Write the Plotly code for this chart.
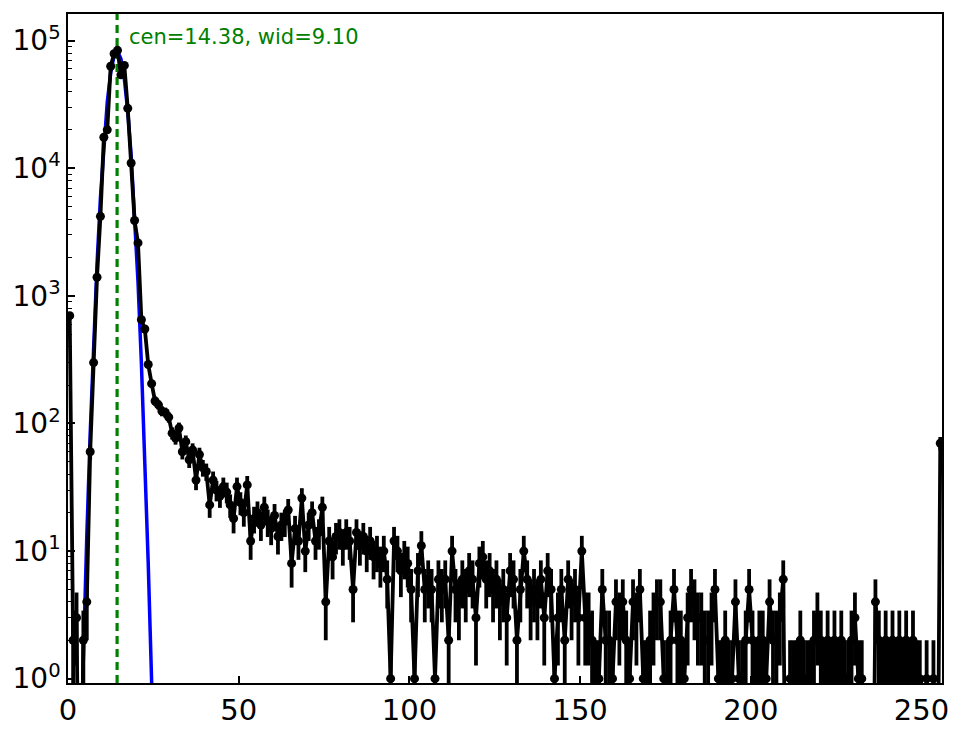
import math
import plotly.graph_objects as go


# counts per unit-wide bin, bins 0..255
COUNTS = [
    700, 2, 3, 0, 2, 4, 60, 300, 1400, 4200, 17500, 20000, 63000, 79000, 84000, 54000,
    64000, 29500, 11000, 3900, 2600, 650, 550, 290, 205, 150, 140, 125, 122, 112, 84, 77,
    92, 60, 72, 52, 62, 36, 57, 45, 42, 23, 36, 30, 27, 32, 29, 23,
    18, 32, 24, 20, 33, 12, 18, 20, 16, 22, 17, 15, 19, 13, 16, 17,
    21, 8, 15, 12, 26, 10, 16, 20, 12, 14, 22, 4, 12, 9, 13, 14,
    11, 14, 12, 5, 14, 11, 13, 10, 12, 9, 10, 8, 10, 6, 1, 12,
    10, 7, 9, 8, 5, 1, 7, 11, 5, 6, 5, 1, 6, 5, 6, 2,
    10, 5, 4, 6, 5, 7, 6, 3, 8, 9, 6, 7, 5, 6, 4, 5,
    3, 7, 6, 2, 5, 10, 6, 4, 5, 4, 6, 3, 7, 5, 1, 3,
    5, 2, 6, 4, 5, 3, 10, 3, 3, 2, 1, 1, 5, 2, 2, 1,
    4, 3, 4, 2, 1, 4, 3, 5, 1, 1, 2, 3, 4, 4, 1, 1,
    2, 5, 2, 2, 1, 3, 5, 4, 3, 3, 2, 2, 3, 5, 1, 1,
    2, 1, 1, 4, 1, 1, 2, 5, 2, 1, 2, 2, 1, 4, 2, 2,
    3, 6, 0, 1, 1, 1, 2, 1, 1, 1, 2, 3, 2, 1, 2, 1,
    2, 1, 2, 1, 1, 2, 3, 1, 1, 0, 0, 0, 4, 2, 1, 2,
    1, 2, 1, 2, 1, 2, 1, 2, 1, 1, 0, 1, 0, 1, 0, 70,
]

# gaussian fit curve as drawn (blue)
FIT_X = [3.5, 4.5, 5.5, 6.5, 7.5, 8.5, 9.5, 10.5, 11.5, 12.5, 13.5, 14.5,
         15.5, 16.5, 17.5, 18.5, 19.5, 20.5, 21.5, 22.5, 23.5, 24.5, 25.5]
FIT_Y = [0.16, 1.6, 13, 83, 430, 1770, 5870, 15560, 33000, 56000, 76150, 82870,
         72200, 50340, 28100, 12570, 4500, 1290, 295, 54, 8, 0.94, 0.09]

FIT_CEN = 14.38
FIT_WID = 9.10

X_TICKS = [0, 50, 100, 150, 200, 250]
Y_TICKS = [1, 10, 100, 1000, 10000, 100000]
Y_TICK_TEXT = ["10<sup>0</sup>", "10<sup>1</sup>", "10<sup>2</sup>",
               "10<sup>3</sup>", "10<sup>4</sup>", "10<sup>5</sup>"]

FLOOR = 0.01  # empty bins get pushed below the axis like matplotlib does


def make_figure():
    x = [i + 0.5 for i in range(len(COUNTS))]
    y = [c if c > 0 else FLOOR for c in COUNTS]

    # poisson error bars as one broken line trace
    err_x, err_y = [], []
    for xi, c in zip(x, COUNTS):
        if c <= 0:
            continue
        s = math.sqrt(c)
        err_x += [xi, xi, None]
        err_y += [max(c - s, FLOOR), c + s, None]

    fig = go.Figure()

    fig.add_trace(go.Scatter(
        x=FIT_X, y=FIT_Y, mode="lines",
        line=dict(color="#0000ff", width=3.5),
        showlegend=False
    ))

    fig.add_vline(
        x=FIT_CEN, line=dict(color="#008000", width=3.2, dash="8px,5px"),
        layer="below"
    )

    fig.add_trace(go.Scatter(
        x=err_x, y=err_y, mode="lines",
        line=dict(color="black", width=3.8),
        connectgaps=False, showlegend=False, hoverinfo="skip"
    ))

    fig.add_trace(go.Scatter(
        x=x, y=y, mode="lines+markers",
        line=dict(color="black", width=3.8),
        marker=dict(color="black", size=9),
        showlegend=False
    ))

    fig.add_annotation(
        x=17.2, xref="x", y=0.965, yref="paper",
        text=f"cen={FIT_CEN:.2f}, wid={FIT_WID:.2f}",
        showarrow=False, xanchor="left", yanchor="middle",
        font=dict(color="#008000", size=21)
    )

    minor_vals = [m * 10 ** k for k in range(0, 5) for m in range(2, 10)]

    fig.update_xaxes(
        range=[0, 256], tickvals=X_TICKS, automargin=False,
        ticks="inside", ticklen=7, tickwidth=1.5, tickcolor="black",
        showline=True, linecolor="black", linewidth=1.5, mirror=True,
        showgrid=False, zeroline=False,
        tickfont=dict(size=29, color="black")
    )
    fig.update_yaxes(
        type="log", range=[-0.034, 5.209], automargin=False,
        tickvals=Y_TICKS, ticktext=Y_TICK_TEXT,
        ticks="inside", ticklen=7, tickwidth=1.5, tickcolor="black",
        minor=dict(tickmode="array", tickvals=minor_vals, ticks="inside",
                   ticklen=4, tickwidth=1.2, tickcolor="black", showgrid=False),
        showline=True, linecolor="black", linewidth=1.5, mirror=True,
        showgrid=False, zeroline=False,
        tickfont=dict(size=28, color="black")
    )

    # page body adds an 8px offset, so the figure is a bit smaller than the window
    fig.update_layout(
        width=956, height=721,
        margin=dict(l=60, r=22, t=6, b=46),
        paper_bgcolor="white", plot_bgcolor="white",
        font=dict(family="DejaVu Sans", color="black")
    )
    return fig


if __name__ == "__main__":
    fig = make_figure()
    fig.write_html("out.html")
